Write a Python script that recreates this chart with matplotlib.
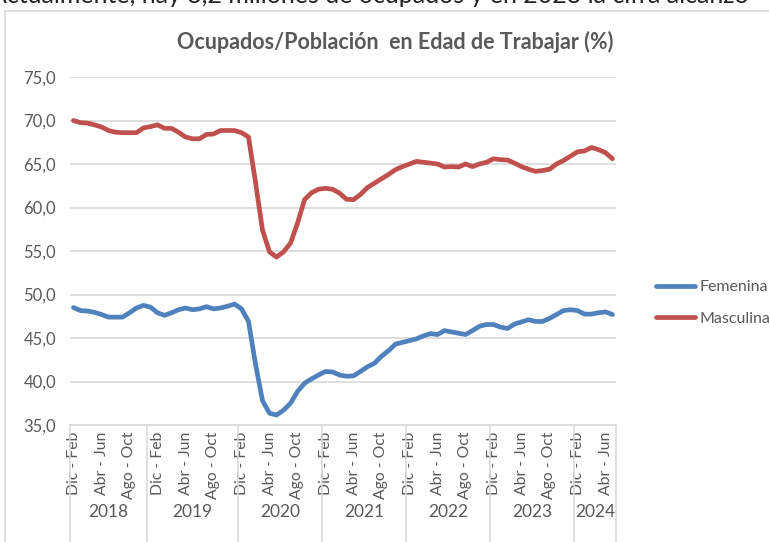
import numpy as np
import matplotlib.pyplot as plt
from matplotlib.lines import Line2D
import matplotlib.transforms as mtransforms

plt.rcParams['font.family'] = ['Lato', 'DejaVu Sans']

# trimestres moviles, de Dic-Feb 2018 a May-Jul 2024
meses = ['Dic - Feb', 'Ene - Mar', 'Feb - Abr', 'Mar - May', 'Abr - Jun', 'May - Jul',
         'Jun - Ago', 'Jul - Sep', 'Ago - Oct', 'Sep - Nov', 'Oct - Dic', 'Nov - Ene']
anios = ['2018', '2019', '2020', '2021', '2022', '2023', '2024']
n_por_anio = [11, 13, 12, 12, 12, 12, 6]

femenina = [48.5, 48.15, 48.1, 47.95, 47.7, 47.4, 47.4, 47.4, 47.9, 48.45,
            48.75, 48.55, 47.9, 47.6, 47.9, 48.25, 48.45, 48.25, 48.35, 48.6,
            48.35, 48.45, 48.65, 48.9, 48.35, 46.9, 42.0, 37.8, 36.35, 36.15,
            36.7, 37.5, 38.85, 39.8, 40.3, 40.75, 41.15, 41.1, 40.75, 40.6,
            40.65, 41.15, 41.7, 42.1, 42.9, 43.55, 44.3, 44.5, 44.7, 44.9,
            45.25, 45.5, 45.4, 45.85, 45.7, 45.55, 45.4, 45.85, 46.35, 46.55,
            46.55, 46.25, 46.1, 46.6, 46.85, 47.1, 46.9, 46.9, 47.25, 47.7,
            48.15, 48.25, 48.15, 47.75, 47.75, 47.9, 48.0, 47.7]
masculina = [70.0, 69.75, 69.7, 69.5, 69.25, 68.85, 68.65, 68.6, 68.6, 68.6,
             69.15, 69.3, 69.5, 69.1, 69.1, 68.65, 68.1, 67.9, 67.9, 68.4,
             68.45, 68.85, 68.85, 68.85, 68.6, 68.1, 62.9, 57.4, 54.9, 54.3,
             54.9, 55.9, 58.2, 60.9, 61.7, 62.1, 62.2, 62.1, 61.65, 60.95,
             60.9, 61.5, 62.3, 62.8, 63.3, 63.8, 64.35, 64.7, 65.0, 65.3,
             65.2, 65.1, 65.0, 64.65, 64.7, 64.65, 65.0, 64.7, 65.0, 65.2,
             65.6, 65.5, 65.45, 65.1, 64.7, 64.4, 64.15, 64.25, 64.4, 65.0,
             65.4, 65.9, 66.4, 66.5, 66.9, 66.65, 66.3, 65.6]

n = len(femenina)
x = np.arange(n)
etiquetas = [meses[i % 12] for i in range(n)]

gris = '#595959'
fig = plt.figure(figsize=(7.69, 5.42), dpi=100)

# texto cortado arriba (viene de la captura)
fig.text(-0.013, 1 - 3 / 542, 'Actualmente, hay 3,2 millones de ocupados y en 2023 la cifra alcanzó',
         fontsize=18, color='#222222', va='baseline', ha='left')

# borde del grafico
fig.add_artist(Line2D([5 / 769, 5 / 769], [0, 1 - 11 / 542], color='#d9d9d9', lw=1.2,
                      transform=fig.transFigure))
fig.add_artist(Line2D([5 / 769, 1], [1 - 11 / 542, 1 - 11 / 542], color='#d9d9d9', lw=1.2,
                      transform=fig.transFigure))

ax = fig.add_axes([70 / 769, 1 - 425 / 542, 546 / 769, 348 / 542])
ax.plot(x, femenina, color='#4f81bd', lw=3.4, label='Femenina', solid_capstyle='round')
ax.plot(x, masculina, color='#c0504d', lw=3.4, label='Masculina', solid_capstyle='round')

ax.set_xlim(-0.5, n - 0.5)
ax.set_ylim(35, 75)
ax.set_yticks(np.arange(35, 76, 5))
ax.set_yticklabels([f'{v:.1f}'.replace('.', ',') for v in np.arange(35, 76, 5)])
ax.grid(axis='y', color='#d9d9d9', lw=1.2)
ax.set_axisbelow(True)
for s in ['top', 'right', 'left']:
    ax.spines[s].set_visible(False)
ax.spines['bottom'].set_color('#d9d9d9')
ax.spines['bottom'].set_linewidth(1.2)

ax.set_xticks(x[::4])
ax.set_xticklabels(etiquetas[::4], rotation=90, fontsize=11.3, color=gris)
ax.tick_params(axis='x', length=0, pad=5)
ax.tick_params(axis='y', length=0, pad=10, labelsize=12, labelcolor=gris)

# separadores de anios y etiquetas
trans = mtransforms.blended_transform_factory(ax.transData, ax.transAxes)
bordes = np.concatenate([[0], np.cumsum(n_por_anio)]) - 0.5
for b in bordes:
    ax.plot([b, b], [0, -0.335], color='#d9d9d9', lw=1.2, transform=trans, clip_on=False)
for i, a in enumerate(anios):
    ax.text((bordes[i] + bordes[i + 1]) / 2, -0.25, a, transform=trans, ha='center',
            va='center', fontsize=12.5, color=gris)

fig.text(395 / 769, 1 - 42 / 542, 'Ocupados/Población  en Edad de Trabajar (%)', fontsize=15.5,
         fontweight='bold', color=gris, ha='center', va='center')

ax.legend(loc='center left', bbox_to_anchor=(642 / 769, 1 - 303 / 542),
          bbox_transform=fig.transFigure, frameon=False, fontsize=11.5, labelcolor=gris,
          handlelength=2.4, handletextpad=0.3, labelspacing=1.1)

fig.savefig('out.png', dpi=100)
